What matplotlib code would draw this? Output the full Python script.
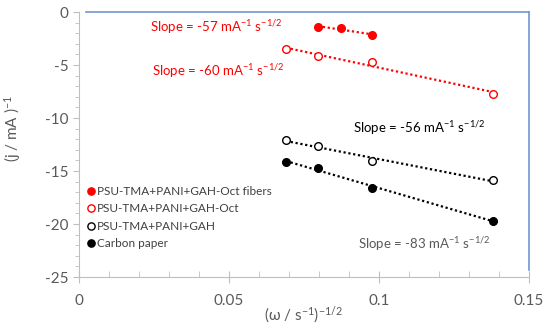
import numpy as np
import matplotlib.pyplot as plt
from matplotlib.ticker import MultipleLocator, FuncFormatter

plt.rcParams["font.family"] = ["Lato", "DejaVu Sans"]
plt.rcParams["mathtext.fontset"] = "custom"
plt.rcParams["mathtext.rm"] = "Lato"
plt.rcParams["mathtext.it"] = "Lato:italic"
plt.rcParams["axes.unicode_minus"] = False

# data
x_fib = [0.0797, 0.0873, 0.0977]
y_fib = [-1.42, -1.51, -2.17]

x_oct = [0.069, 0.0797, 0.0977, 0.138]
y_oct = [-3.5, -4.15, -4.7, -7.7]

x_gah = [0.069, 0.0797, 0.0977, 0.138]
y_gah = [-12.1, -12.6, -14.1, -15.85]

x_cp = [0.069, 0.0797, 0.0977, 0.138]
y_cp = [-14.15, -14.7, -16.6, -19.7]

labels = ["PSU-TMA+PANI+GAH-Oct fibers", "PSU-TMA+PANI+GAH-Oct",
          "PSU-TMA+PANI+GAH", "Carbon paper"]
slopes = ["-57", "-60", "-56", "-83"]

red = "#ff0000"
grey_txt = "#595959"
axis_grey = "#bfbfbf"
blue = "#7097d0"

fig = plt.figure(figsize=(5.5, 3.29), dpi=100)
ax = fig.add_axes([0.1436, 0.158, 0.818, 0.8055])

series = [
    (x_fib, y_fib, red, red),
    (x_oct, y_oct, red, "white"),
    (x_gah, y_gah, "black", "white"),
    (x_cp, y_cp, "black", "black"),
]
for (xs, ys, c, fc), lab in zip(series, labels):
    ax.plot(xs, ys, "o", ms=5.5, mec=c, mfc=fc, mew=1, label=lab, zorder=3)
    k, b = np.polyfit(xs, ys, 1)
    xl = np.array([min(xs), max(xs)])
    ax.plot(xl, k * xl + b, ls=(0, (1, 1.2)), color=c, lw=1.6, zorder=2)

def slope_text(x, y, s, color):
    ax.text(x, y, "Slope = " + s + " mA$^{-1}$ s$^{-1/2}$", color=color,
            fontsize=9.5, ha="left", va="center")

slope_text(0.0237, -1.4, slopes[0], red)
slope_text(0.0243, -5.6, slopes[1], red)
slope_text(0.0913, -10.9, slopes[2], "black")
slope_text(0.093, -21.9, slopes[3], grey_txt)

ax.set_xlim(0, 0.15)
ax.set_ylim(-25, 0)
ax.xaxis.set_major_locator(MultipleLocator(0.05))
ax.xaxis.set_minor_locator(MultipleLocator(0.01))
ax.yaxis.set_major_locator(MultipleLocator(5))
ax.yaxis.set_minor_locator(MultipleLocator(1))
ax.xaxis.set_major_formatter(FuncFormatter(lambda v, p: f"{v:.2f}".rstrip("0").rstrip(".")))

ax.tick_params(axis="both", which="both", color=axis_grey, labelcolor=grey_txt,
               labelsize=11)
ax.tick_params(axis="x", which="major", direction="inout", length=8, pad=8)
ax.tick_params(axis="x", which="minor", direction="in", length=4)
ax.tick_params(axis="y", which="major", direction="out", length=4)
ax.tick_params(axis="y", which="minor", direction="out", length=3)

for side in ["left", "bottom"]:
    ax.spines[side].set_color(axis_grey)
for side in ["top", "right"]:
    ax.spines[side].set_color(blue)
    ax.spines[side].set_linewidth(1.2)
ax.spines["top"].set_bounds(0.0022, 0.15)
ax.spines["right"].set_bounds(-24.3, 0)

ax.set_xlabel("(ω / s$^{-1}$)$^{-1/2}$", color=grey_txt, fontsize=11)
ax.xaxis.set_label_coords(0.5, -0.105)
ax.set_ylabel("(j / mA )$^{-1}$", color=grey_txt, fontsize=11)
ax.yaxis.set_label_coords(-0.125, 0.56)

ax.legend(loc="lower left", bbox_to_anchor=(-0.01, 0.065), frameon=False,
          fontsize=8.5, handlelength=1.0, handletextpad=0.0, labelspacing=0.55,
          markerscale=0.95, labelcolor="#404040")

fig.savefig("out.png", dpi=100)
